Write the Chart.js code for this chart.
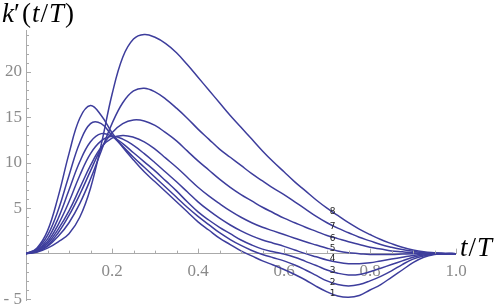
<!DOCTYPE html>
<html>
<head>
<meta charset="utf-8">
<script src="https://cdn.jsdelivr.net/npm/chart.js@4.4.0/dist/chart.umd.min.js"></script>
<style>
  body { margin: 0; background: #fff; }
  #wrap { width: 498px; height: 306px; }
</style>
</head>
<body>
<div id="wrap"><canvas id="chart" width="498" height="306"></canvas></div>
<script>
// t/T 값 (0.025 간격)
const tValues = [0, 0.025, 0.05, 0.075, 0.1, 0.125, 0.15, 0.175, 0.2, 0.225,
  0.25, 0.275, 0.3, 0.325, 0.35, 0.375, 0.4, 0.425, 0.45, 0.475,
  0.5, 0.525, 0.55, 0.575, 0.6, 0.625, 0.65, 0.675, 0.7, 0.725,
  0.75, 0.775, 0.8, 0.825, 0.85, 0.875, 0.9, 0.925, 0.95, 0.975, 1.0];

// 곡선별 k'(t/T) 값
const curve1 = [0, 0.6, 2.5, 6.3, 11.0, 14.9, 16.3, 15.2, 13.3, 11.7,
  10.3, 9.0, 7.9, 6.8, 5.7, 4.6, 3.5, 2.6, 1.7, 1.0,
  0.3, -0.25, -0.8, -1.25, -1.75, -2.3, -2.9, -3.6, -4.2, -4.65,
  -4.8, -4.6, -4.0, -3.4, -2.6, -1.8, -1.0, -0.4, -0.1, 0, 0];
const curve2 = [0, 0.5, 2.0, 4.8, 8.6, 12.2, 14.3, 14.3, 13.0, 11.8,
  10.6, 9.5, 8.4, 7.3, 6.2, 5.1, 4.1, 3.2, 2.3, 1.55,
  0.9, 0.35, -0.1, -0.45, -0.8, -1.25, -1.8, -2.4, -3.0, -3.4,
  -3.55, -3.4, -3.0, -2.5, -1.9, -1.2, -0.6, -0.25, -0.05, 0, 0];
const curve3 = [0, 0.4, 1.6, 3.9, 7.0, 10.1, 12.3, 13.2, 12.9, 12.1,
  11.1, 10.1, 9.1, 8.0, 6.9, 5.7, 4.6, 3.7, 2.9, 2.2,
  1.5, 0.95, 0.5, 0.2, -0.05, -0.4, -0.85, -1.3, -1.8, -2.15,
  -2.35, -2.3, -2.0, -1.6, -1.2, -0.8, -0.4, -0.15, 0, 0, 0];
const curve4 = [0, 0.35, 1.3, 3.2, 5.7, 8.6, 11.0, 12.4, 12.9, 12.6,
  11.9, 11.0, 10.0, 8.95, 7.9, 6.8, 5.7, 4.75, 3.9, 3.15,
  2.5, 1.95, 1.5, 1.15, 0.8, 0.4, 0.0, -0.35, -0.7, -0.95,
  -1.1, -1.1, -1.0, -0.8, -0.6, -0.4, -0.2, -0.05, 0, 0, 0];
const curve5 = [0, 0.3, 1.1, 2.7, 4.7, 7.2, 9.7, 11.7, 12.7, 13.0,
  12.8, 12.3, 11.5, 10.5, 9.5, 8.4, 7.3, 6.35, 5.5, 4.7,
  4.0, 3.4, 2.9, 2.5, 2.1, 1.7, 1.3, 0.95, 0.6, 0.3,
  0.1, 0.0, -0.1, -0.1, -0.1, -0.05, 0, 0, 0, 0, 0];
const curve6 = [0, 0.25, 0.9, 2.3, 4.2, 6.5, 9.1, 11.6, 13.3, 14.3,
  14.7, 14.6, 14.1, 13.3, 12.4, 11.3, 10.2, 9.2, 8.2, 7.3,
  6.5, 5.8, 5.1, 4.5, 3.9, 3.4, 2.9, 2.45, 2.0, 1.65,
  1.3, 1.0, 0.7, 0.5, 0.3, 0.2, 0.1, 0.05, 0, 0, 0];
const curve7 = [0, 0.2, 0.8, 1.9, 3.4, 5.5, 8.2, 11.3, 14.3, 16.6,
  17.9, 18.2, 17.8, 17.0, 16.0, 14.9, 13.7, 12.6, 11.5, 10.6,
  9.7, 8.8, 8.0, 7.2, 6.5, 5.7, 4.9, 4.1, 3.4, 2.8,
  2.3, 1.8, 1.4, 1.0, 0.7, 0.45, 0.25, 0.1, 0.05, 0, 0];
const curve8 = [0, 0.15, 0.6, 1.3, 2.2, 4.0, 7.2, 12.0, 17.5, 21.6,
  23.6, 24.1, 23.8, 23.1, 22.1, 20.8, 19.4, 18.0, 16.6, 15.2,
  13.9, 12.6, 11.3, 10.1, 9.0, 7.9, 6.9, 5.9, 5.0, 4.2,
  3.4, 2.7, 2.1, 1.55, 1.1, 0.7, 0.4, 0.2, 0.1, 0.03, 0];

const allCurves = [curve1, curve2, curve3, curve4, curve5, curve6, curve7, curve8];
const curveNames = ["1", "2", "3", "4", "5", "6", "7", "8"];

// 눈금
const xTicks = [0.2, 0.4, 0.6, 0.8, 1.0];
const yTicks = [-5, 5, 10, 15, 20];

// 곡선 번호 라벨 위치 (데이터 단위)
const labelT = 0.713;
const labelY = [-4.4, -3.15, -1.83, -0.58, 0.51, 1.6, 2.93, 4.64];

const lineColor = "#3d3d9c";
const axisColor = "#aaaaaa";
const tickColor = "#8a8a8a";

// 이탤릭/정자체 섞인 수식 텍스트 그리기 ([글자, 이탤릭?, 뒤 간격])
function drawMath(ctx, parts, x, y, size) {
  parts.forEach(([text, italic, gap]) => {
    ctx.font = (italic ? "italic " : "") + size + "px 'Liberation Serif'";
    ctx.fillText(text, x, y);
    x += ctx.measureText(text).width + (gap || 0);
  });
}

// 보조 눈금 + 축 제목 + 곡선 번호
const decorPlugin = {
  id: "decor",
  afterDraw(chart) {
    const ctx = chart.ctx;
    const xs = chart.scales.x;
    const ys = chart.scales.y;
    const y0 = ys.getPixelForValue(0);
    const x0 = xs.getPixelForValue(0);

    ctx.save();
    ctx.strokeStyle = axisColor;
    ctx.lineWidth = 1;
    // x축 눈금 (위쪽)
    for (let i = 1; i <= 20; i++) {
      const v = i * 0.05;
      const px = Math.round(xs.getPixelForValue(v)) + 0.5;
      const len = i % 4 === 0 ? 5 : 3;
      ctx.beginPath();
      ctx.moveTo(px, y0);
      ctx.lineTo(px, y0 - len);
      ctx.stroke();
    }
    // y축 눈금 (오른쪽)
    for (let v = -5; v <= 24; v++) {
      if (v === 0) continue;
      const py = Math.round(ys.getPixelForValue(v)) + 0.5;
      const len = v % 5 === 0 ? 5 : 3;
      ctx.beginPath();
      ctx.moveTo(x0, py);
      ctx.lineTo(x0 + len, py);
      ctx.stroke();
    }

    // 축 제목
    ctx.fillStyle = "#000";
    ctx.textBaseline = "alphabetic";
    ctx.textAlign = "left";
    drawMath(ctx, [["k", true, 0], ["′", false, 2], ["(", false, 1], ["t", true, 1],
      ["/", false, 1], ["T", true, 1], [")", false, 0]], 2, 22, 27);
    drawMath(ctx, [["t", true, 1], ["/", false, 1], ["T", true, 0]], 460, 256, 27);

    // 곡선 번호
    ctx.font = "9px 'DejaVu Sans'";
    ctx.textAlign = "center";
    ctx.textBaseline = "middle";
    ctx.fillStyle = "#222";
    labelY.forEach((v, i) => {
      ctx.fillText(curveNames[i], xs.getPixelForValue(labelT), ys.getPixelForValue(v));
    });
    ctx.restore();
  },
};

const ctx = document.getElementById("chart").getContext("2d");
new Chart(ctx, {
  type: "line",
  data: {
    datasets: allCurves.map((vals, i) => ({
      label: curveNames[i],
      data: tValues.map((t, j) => ({ x: t, y: vals[j] })),
      borderColor: lineColor,
      borderWidth: 1.5,
      pointRadius: 0,
      fill: false,
      tension: 0.4,
    })),
  },
  options: {
    responsive: false,
    animation: false,
    devicePixelRatio: 1,
    layout: { padding: { top: 30, right: 42, bottom: 6, left: 0 } },
    plugins: {
      legend: { display: false },
      tooltip: { enabled: false },
    },
    scales: {
      x: {
        type: "linear",
        min: 0,
        max: 1,
        position: { y: 0 },
        afterFit: (scale) => {
          scale.height = 0;
          scale.paddingLeft = 0;
          scale.paddingRight = 0;
        },
        afterBuildTicks: (scale) => { scale.ticks = xTicks.map((v) => ({ value: v })); },
        grid: { display: false, drawTicks: false },
        border: { display: true, color: axisColor, width: 1 },
        ticks: {
          padding: 8,
          color: tickColor,
          font: { family: "'Liberation Serif'", size: 17 },
          maxRotation: 0,
          callback: (v) => v.toFixed(1),
        },
      },
      y: {
        type: "linear",
        min: -5.1,
        max: 24.6,
        position: "left",
        afterFit: (scale) => {
          scale.width = 26;
          scale.paddingTop = 0;
          scale.paddingBottom = 0;
        },
        afterBuildTicks: (scale) => { scale.ticks = yTicks.map((v) => ({ value: v })); },
        grid: { display: false, drawTicks: false },
        border: { display: true, color: axisColor, width: 1 },
        ticks: {
          padding: 4,
          color: tickColor,
          font: { family: "'Liberation Serif'", size: 17 },
          callback: (v) => (v < 0 ? "- " + Math.abs(v) : String(v)),
        },
      },
    },
  },
  plugins: [decorPlugin],
});
</script>
</body>
</html>
